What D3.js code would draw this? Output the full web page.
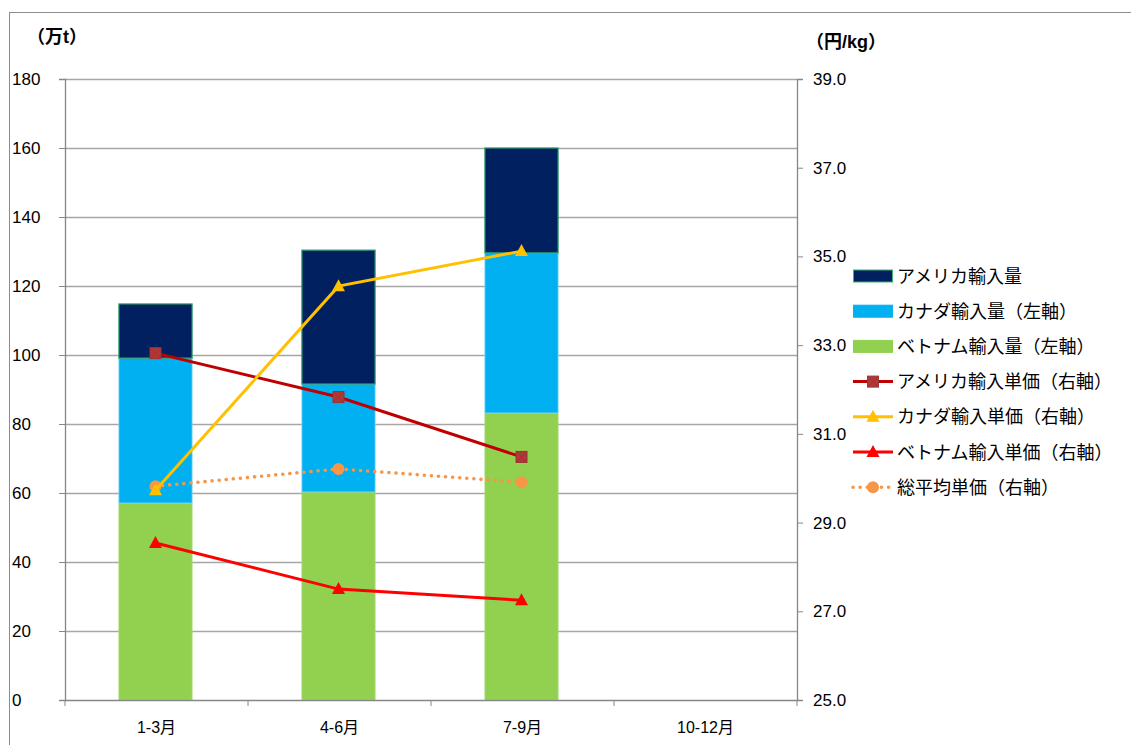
<!DOCTYPE html>
<html><head><meta charset="utf-8">
<script src="https://cdn.jsdelivr.net/npm/d3@7"></script>
<style>
body{margin:0;background:#fff;}
text{font-family:"Liberation Sans","Noto Sans CJK JP",sans-serif;}
</style></head><body>
<svg id="c" width="1131" height="745"></svg>
<script>
const categories = ["1-3月","4-6月","7-9月","10-12月"];
const vietnamVol = [57.1, 60.3, 83.2, null];
const canadaVol = [42.0, 31.3, 46.4, null];
const americaVol = [15.7, 38.8, 30.4, null];
const americaPrice = [32.82, 31.83, 30.48];
const canadaPrice = [29.73, 34.33, 35.12];
const vietnamPrice = [28.54, 27.50, 27.25];
const avgPrice = [29.82, 30.21, 29.91];
const leftTicks = [0,20,40,60,80,100,120,140,160,180];
const rightTicks = [25,27,29,31,33,35,37,39];
const legendLabels = ["アメリカ輸入量","カナダ輸入量（左軸）","ベトナム輸入量（左軸）","アメリカ輸入単価（右軸）","カナダ輸入単価（右軸）","ベトナム輸入単価（右軸）","総平均単価（右軸）"];

const svg = d3.select("#c");
const L=65, R=797, T=79, B=700;
// outer border
svg.append("rect").attr("x",9.5).attr("y",12.5).attr("width",1140).attr("height",760).attr("fill","none").attr("stroke","#8c8c8c");

const x = d3.scaleBand().domain(categories).range([L,R]).paddingInner(0.6).paddingOuter(0.3);
const xc = d3.scaleBand().domain(categories).range([L,R]);
const yL = d3.scaleLinear().domain([0,180]).range([B,T]);
const yR = d3.scaleLinear().domain([25,39]).range([B,T]);

// gridlines
svg.append("g").selectAll("line").data(leftTicks.filter(d=>d>0)).join("line")
  .attr("x1",L).attr("x2",R).attr("y1",d=>Math.round(yL(d))+0.5).attr("y2",d=>Math.round(yL(d))+0.5)
  .attr("stroke","#a6a6a6").attr("stroke-width",1.3);

// stacked bars
const stackData = categories.map((c,i)=>({cat:c, v:vietnamVol[i]||0, c:canadaVol[i]||0, a:americaVol[i]||0}));
const stack = d3.stack().keys(["v","c","a"])(stackData);
const fills = {v:"#92D050", c:"#00B0F0", a:"#002060"};
const strokes = {v:"#a9dc7c", c:"#7fd6f7", a:"#2f9e6c"};
stack.forEach(s=>{
  svg.append("g").selectAll("rect").data(s.filter(d=>d[1]-d[0]>0)).join("rect")
    .attr("x",d=>x(d.data.cat)-1).attr("width",x.bandwidth())
    .attr("y",d=>yL(d[1])).attr("height",d=>yL(d[0])-yL(d[1]))
    .attr("fill",fills[s.key]).attr("stroke",strokes[s.key]).attr("stroke-width",s.key==="a"?1.2:0.8);
});

// axes
const axL = d3.axisLeft(yL).tickValues(leftTicks).tickSize(6).tickPadding(10).tickFormat(d3.format("d"));
const gL = svg.append("g").attr("transform",`translate(${L},0)`).call(axL);
const axR = d3.axisRight(yR).tickValues(rightTicks).tickSize(6).tickPadding(10).tickFormat(d3.format(".1f"));
const gR = svg.append("g").attr("transform",`translate(${R},0)`).call(axR);
const axB = d3.axisBottom(xc).tickSize(0).tickPadding(22);
const gB = svg.append("g").attr("transform",`translate(0,${B})`).call(axB);
// category boundary ticks
svg.append("g").selectAll("line").data(d3.range(5)).join("line")
  .attr("x1",i=>L+i*xc.bandwidth()).attr("x2",i=>L+i*xc.bandwidth())
  .attr("y1",B).attr("y2",B+6).attr("stroke","#868686");
[gL,gR,gB].forEach(g=>{
  g.select(".domain").attr("stroke","#868686").attr("stroke-width",1.3);
  g.selectAll(".tick line").attr("stroke","#868686");
  g.selectAll("text").attr("font-size",17).attr("fill","#000").attr("font-family","Liberation Sans, Noto Sans CJK JP, sans-serif");
});
gL.selectAll(".tick text").attr("text-anchor","start").attr("x",-53);
gB.selectAll("text").attr("font-size",16);

// axis titles
svg.append("text").attr("x",27).attr("y",43).attr("font-size",18).attr("font-weight","bold").text("（万t）");
svg.append("text").attr("x",806).attr("y",48).attr("font-size",18).attr("font-weight","bold").text("（円/kg）");

const cx = i=>xc(categories[i])+xc.bandwidth()/2 - 1;
const line = d3.line().x((d,i)=>cx(i)).y(d=>yR(d));

function squareMarker(g,px,py){
  g.append("rect").attr("x",px-5.5).attr("y",py-5.5).attr("width",11).attr("height",11).attr("fill","#a83c3c").attr("stroke","#993333");
  g.append("path").attr("d",`M${px-5},${py-5}L${px+5},${py+5}M${px+5},${py-5}L${px-5},${py+5}`).attr("stroke","#cc1f1f").attr("stroke-width",1);
}
function triMarker(g,px,py,col){
  g.append("path").attr("d",`M${px},${py-7}L${px+6.5},${py+5}L${px-6.5},${py+5}Z`).attr("fill",col);
}
function circMarker(g,px,py){
  g.append("circle").attr("cx",px).attr("cy",py).attr("r",6).attr("fill","#F79646");
}

// lines
const gLines = svg.append("g");
gLines.append("path").datum(vietnamPrice).attr("d",line).attr("fill","none").attr("stroke","#FF0000").attr("stroke-width",3);
vietnamPrice.forEach((d,i)=>triMarker(gLines,cx(i),yR(d),"#FF0000"));
gLines.append("path").datum(avgPrice).attr("d",line).attr("fill","none").attr("stroke","#F79646").attr("stroke-width",3.5).attr("stroke-dasharray","0.1,7").attr("stroke-linecap","round");
avgPrice.forEach((d,i)=>circMarker(gLines,cx(i),yR(d)));
gLines.append("path").datum(americaPrice).attr("d",line).attr("fill","none").attr("stroke","#C00000").attr("stroke-width",3);
americaPrice.forEach((d,i)=>squareMarker(gLines,cx(i),yR(d)));
gLines.append("path").datum(canadaPrice).attr("d",line).attr("fill","none").attr("stroke","#FFC000").attr("stroke-width",3);
canadaPrice.forEach((d,i)=>triMarker(gLines,cx(i),yR(d),"#FFC000"));

// legend
const lg = svg.append("g");
const ly0 = 276, lstep = 35.2, sx = 853, tx = 897;
legendLabels.forEach((lab,i)=>{
  const yy = ly0 + i*lstep;
  if(i<3){
    const col=[fills.a,fills.c,fills.v][i];
    lg.append("rect").attr("x",sx+0.5).attr("y",yy-6).attr("width",39).attr("height",12).attr("fill",col)
      .attr("stroke",i===0?"#3cb371":col).attr("stroke-width",1);
  } else {
    const col=["#C00000","#FFC000","#FF0000","#F79646"][i-3];
    const l = lg.append("line").attr("x1",sx).attr("x2",sx+40).attr("y1",yy).attr("y2",yy).attr("stroke",col).attr("stroke-width",3);
    if(i===6) l.attr("stroke-width",3.5).attr("stroke-dasharray","0.1,7").attr("stroke-linecap","round");
    const mx=sx+20;
    if(i===3) squareMarker(lg,mx,yy);
    else if(i===4) triMarker(lg,mx,yy,"#FFC000");
    else if(i===5) triMarker(lg,mx,yy,"#FF0000");
    else circMarker(lg,mx,yy);
  }
  lg.append("text").attr("x",tx).attr("y",yy+6.5).attr("font-size",18).attr("fill","#000").text(lab);
});
</script>
</body></html>
